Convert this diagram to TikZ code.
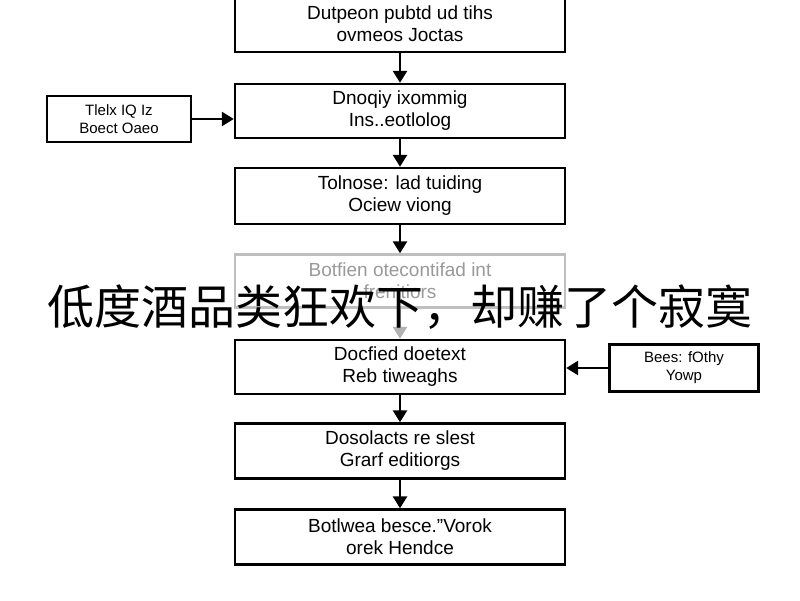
\documentclass[tikz,border=0pt]{standalone}
\usepackage{fontspec}
\setmainfont{Liberation Sans}
\newfontfamily\cjk{Noto Sans CJK SC}
\usetikzlibrary{arrows.meta}
\begin{document}
\begin{tikzpicture}[x=1pt,y=-1pt,
  box/.style={draw,line width=2.4pt,minimum width=330pt,align=center,font=\fontsize{19}{22}\selectfont,inner sep=0pt},
  sidebox/.style={draw,line width=2.4pt,align=center,font=\fontsize{15}{18}\selectfont,inner sep=0pt},
  arr/.style={-{Triangle[length=12pt,width=14pt]},line width=2.6pt}]
\fill[white] (0,0) rectangle (800,600);
\useasboundingbox (0,0) rectangle (800,600);
\node[box,minimum height=56pt] (b1) at (400,24) {Dutpeon pubtd ud tihs\\ ovmeos Joctas};
\node[box,minimum height=54pt] (b2) at (400,111) {Dnoqiy ixommig\\ Ins..eotlolog};
\node[box,minimum height=56pt] (b3) at (400,196) {Tolnose: lad tuiding\\ Ociew viong};
\node[box,minimum height=53pt,draw=black!25,text=black!40] (b4) at (400,281) {Botfien otecontifad int\\ frenitiors};
\node[box,minimum height=54pt] (b5) at (400,367) {Docfied doetext\\ Reb tiweaghs};
\node[box,minimum height=55pt] (b6) at (400,451) {Dosolacts re slest\\ Grarf editiorgs};
\node[box,minimum height=55pt] (b7) at (400,537) {Botlwea besce."Vorok\\ orek Hendce};
\node[sidebox,minimum width=144pt,minimum height=46pt] (l) at (119,119) {Tlelx IQ Iz\\ Boect Oaeo};
\node[sidebox,minimum width=149pt,minimum height=47pt] (r) at (684,368) {Bees: fOthy\\ Yowp};
\draw[arr] (b1) -- (b2);
\draw[arr] (b2) -- (b3);
\draw[arr] (b3) -- (b4);
\draw[arr,draw=black!30] (b4) -- (b5);
\draw[arr] (b5) -- (b6);
\draw[arr] (b6) -- (b7);
\draw[arr] (l.east) -- (l.east -| b2.west);
\draw[arr] (r.west) -- (r.west -| b5.east);
\node[font=\cjk\fontsize{47}{52}\selectfont,inner sep=0pt] (t) at (400,307) {低度酒品类狂欢下，却赚了个寂寞};
\end{tikzpicture}
\end{document}
